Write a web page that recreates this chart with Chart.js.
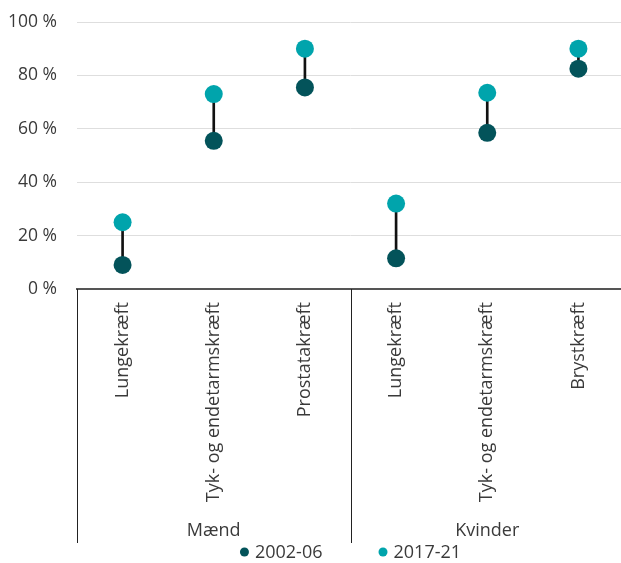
<!DOCTYPE html>
<html>
<head>
<meta charset="utf-8">
<script src="https://cdn.jsdelivr.net/npm/chart.js@4"></script>
<style>
  html, body { margin: 0; padding: 0; background: #fff; overflow: hidden; }
  #wrap { width: 621px; height: 563px; overflow: hidden; }
</style>
</head>
<body>
<div id="wrap"><canvas id="myChart" width="624" height="563"></canvas></div>
<script>
// Data
const categories = ["Lungekræft", "Tyk- og endetarmskræft", "Prostatakræft", "Lungekræft", "Tyk- og endetarmskræft", "Brystkræft"];
const groups = ["Mænd", "Kvinder"];
const groupSizes = [3, 3];
const seriesNames = ["2002-06", "2017-21"];
const values2002 = [9, 55.5, 75.5, 11.5, 58.5, 82.5];
const values2017 = [25, 73, 90, 32, 73.5, 90];
const yTicks = [0, 20, 40, 60, 80, 100];

const colors = ["#03535A", "#00A4AC"];
const textColor = "#3a3a3a";
const fontFamily = "'Open Sans', sans-serif";
const fontSize = 17.5;

Chart.defaults.font.family = fontFamily;
Chart.defaults.font.size = fontSize;
Chart.defaults.color = textColor;

// grupper, skillelinjer og legend tegnes her
const groupPlugin = {
  id: "groups",
  afterDraw(chart) {
    const ctx = chart.ctx;
    const x = chart.scales.x;
    const area = chart.chartArea;
    const step = x.getPixelForValue(1) - x.getPixelForValue(0);

    ctx.save();
    ctx.strokeStyle = "#222";
    ctx.lineWidth = 1;
    ctx.fillStyle = textColor;
    ctx.font = "18px " + fontFamily;
    ctx.textAlign = "center";
    ctx.textBaseline = "middle";

    let start = 0;
    const bounds = [x.getPixelForValue(0) - step / 2];
    groups.forEach((g, i) => {
      const end = start + groupSizes[i] - 1;
      const left = x.getPixelForValue(start) - step / 2;
      const right = x.getPixelForValue(end) + step / 2;
      bounds.push(right);
      ctx.fillText(g, (left + right) / 2, x.bottom - 12);
      start = end + 1;
    });
    bounds.forEach(b => {
      const px = Math.round(b) + 0.5;
      ctx.beginPath();
      ctx.moveTo(px, area.bottom);
      ctx.lineTo(px, x.bottom);
      ctx.stroke();
    });

    // legend
    const r = 4.5, gapText = 6, gapItem = 56;
    ctx.textAlign = "left";
    const widths = seriesNames.map(n => 2 * r + gapText + ctx.measureText(n).width);
    const total = widths.reduce((a, b) => a + b, 0) + gapItem * (seriesNames.length - 1);
    let lx = (area.left + area.right) / 2 - total / 2;
    const ly = x.bottom + 9;
    seriesNames.forEach((n, i) => {
      ctx.fillStyle = colors[i];
      ctx.beginPath();
      ctx.arc(lx + r, ly, r, 0, Math.PI * 2);
      ctx.fill();
      ctx.fillStyle = textColor;
      ctx.fillText(n, lx + 2 * r + gapText, ly + 1);
      lx += widths[i] + gapItem;
    });
    ctx.restore();
  }
};

const ctx = document.getElementById("myChart").getContext("2d");
new Chart(ctx, {
  type: "bar",
  data: {
    labels: categories,
    datasets: [
      {
        type: "line",
        label: seriesNames[0],
        data: values2002,
        showLine: false,
        pointRadius: 9,
        pointHoverRadius: 9,
        pointBorderWidth: 0,
        pointBackgroundColor: colors[0],
        borderColor: colors[0],
        order: 0
      },
      {
        type: "line",
        label: seriesNames[1],
        data: values2017,
        showLine: false,
        pointRadius: 9,
        pointHoverRadius: 9,
        pointBorderWidth: 0,
        pointBackgroundColor: colors[1],
        borderColor: colors[1],
        order: 0
      },
      {
        type: "bar",
        label: "forskel",
        data: categories.map((c, i) => [values2002[i], values2017[i]]),
        backgroundColor: "#111",
        barThickness: 2,
        order: 1
      }
    ]
  },
  options: {
    responsive: false,
    animation: false,
    layout: { autoPadding: false, padding: { top: 22, left: 8, right: 0, bottom: 20 } },
    plugins: {
      legend: { display: false },
      tooltip: { enabled: false }
    },
    scales: {
      x: {
        offset: true,
        grid: { display: false, drawTicks: false },
        border: { display: true, color: "#555", width: 2 },
        ticks: {
          autoSkip: false,
          minRotation: 90,
          maxRotation: 90,
          padding: 13,
          color: textColor,
          font: { size: 18 }
        },
        afterFit(scale) {
          scale.height = 254;
          scale.paddingLeft = 0;
          scale.paddingRight = 0;
        }
      },
      y: {
        min: yTicks[0],
        max: yTicks[yTicks.length - 1],
        afterBuildTicks(scale) { scale.ticks = yTicks.map(v => ({ value: v })); },
        grid: { color: "#dedede", lineWidth: 1, drawTicks: false },
        border: { display: false },
        ticks: {
          padding: 20,
          color: textColor,
          callback: v => v + " %"
        },
        afterFit(scale) {
          scale.width = 69;
          scale.paddingTop = 0;
          scale.paddingBottom = 0;
        }
      }
    }
  },
  plugins: [groupPlugin]
});
</script>
</body>
</html>
